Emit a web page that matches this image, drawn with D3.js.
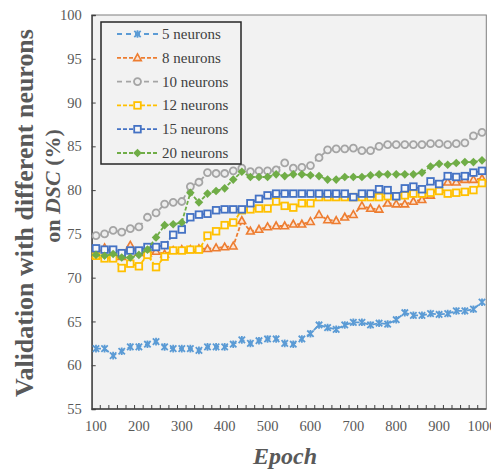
<!DOCTYPE html>
<html>
<head>
<meta charset="utf-8">
<script src="https://cdn.jsdelivr.net/npm/d3@7"></script>
<style>
  html, body { margin: 0; padding: 0; background: #ffffff; }
  svg { display: block; }
  text { font-family: "Liberation Serif", "Times New Roman", serif; }
</style>
</head>
<body>
<svg id="chart" width="491" height="470"></svg>
<script>
// Training epochs (x categories)
const epochs = [100,120,140,160,180,200,220,240,260,280,300,320,340,360,380,400,420,440,460,480,
  500,520,540,560,580,600,620,640,660,680,700,720,740,760,780,800,820,840,860,880,900,920,940,960,980,1000];

// Validation DSC (%) for each hidden-layer size
const neurons5  = [61.9,61.9,61.1,61.6,62.1,62.1,62.4,62.7,62.1,61.9,61.9,61.9,61.7,62.1,62.1,62.1,62.4,62.9,62.5,62.8,
  63.0,63.0,62.5,62.4,63.0,63.6,64.6,64.3,64.1,64.6,64.9,64.9,64.6,64.8,64.7,65.2,66.0,65.7,65.7,65.9,
  65.8,65.9,66.2,66.2,66.4,67.2];
const neurons8  = [72.6,73.4,72.6,72.4,73.7,72.9,72.8,73.0,72.7,73.1,73.2,73.2,73.3,73.3,73.4,73.5,73.6,76.5,75.3,75.5,
  75.8,75.9,75.9,76.1,76.1,76.4,77.2,76.6,76.5,76.9,77.2,78.2,77.9,77.8,78.5,78.4,78.4,78.7,78.9,79.4,
  80.3,80.9,80.9,81.2,81.2,81.3];
const neurons10 = [74.8,75.0,75.4,75.2,75.6,75.8,76.9,77.4,78.4,78.6,78.7,80.4,80.9,82.0,81.9,81.9,82.2,82.5,82.1,82.2,
  82.2,82.3,83.1,82.5,82.6,82.8,83.7,84.6,84.7,84.7,84.8,84.5,84.5,85.0,85.2,85.2,85.2,85.2,85.2,85.3,
  85.3,85.2,85.3,85.4,86.2,86.6];
const neurons12 = [72.5,72.2,72.2,71.1,71.6,71.3,72.6,71.2,72.4,73.1,73.1,73.2,73.2,74.8,75.3,76.0,76.3,77.7,77.8,77.9,
  77.9,78.7,78.2,78.0,78.5,78.5,79.2,79.2,79.2,79.2,79.2,79.2,79.2,79.2,79.3,79.3,79.4,79.6,79.6,79.7,
  79.9,79.6,79.7,79.8,80.0,80.8];
const neurons15 = [73.35,73.2,73.2,72.8,73.1,73.1,73.5,73.5,73.7,74.9,75.5,76.9,77.2,77.3,77.7,77.8,77.8,77.8,78.5,79.0,
  79.4,79.6,79.6,79.6,79.6,79.6,79.6,79.6,79.6,79.6,79.2,79.6,79.6,80.1,80.0,79.3,80.2,80.4,80.1,81.0,
  80.7,81.6,81.5,81.6,82.0,82.2];
const neurons20 = [72.6,72.5,72.7,72.3,72.3,72.6,73.2,74.6,76.0,76.1,76.3,79.7,78.6,79.6,79.9,80.2,81.2,82.1,81.5,81.5,
  81.5,81.8,81.6,81.8,81.8,81.7,81.6,81.2,81.2,81.5,81.5,81.5,81.7,81.8,81.8,81.8,81.8,81.8,82.0,82.7,
  83.0,82.9,83.1,83.2,83.2,83.4];

const seriesNames = ["5 neurons","8 neurons","10 neurons","12 neurons","15 neurons","20 neurons"];
const yTicks = [55,60,65,70,75,80,85,90,95,100];
const xTickLabels = [100,200,300,400,500,600,700,800,900,1000];

const series = [
  { name: seriesNames[0], values: neurons5,  color: "#5b9bd5", dash: "5,4", marker: "star" },
  { name: seriesNames[1], values: neurons8,  color: "#ed7d31", dash: "4,2", marker: "triangle" },
  { name: seriesNames[2], values: neurons10, color: "#a5a5a5", dash: "5,4", marker: "circle" },
  { name: seriesNames[3], values: neurons12, color: "#ffc000", dash: "4,2", marker: "square" },
  { name: seriesNames[4], values: neurons15, color: "#4472c4", dash: "4,2", marker: "square" },
  { name: seriesNames[5], values: neurons20, color: "#70ad47", dash: "4,2", marker: "diamond" }
];

const svg = d3.select("#chart");
const plot = { left: 91.7, right: 486.3, top: 15, bottom: 409 };

const x = d3.scalePoint().domain(epochs).range([plot.left, plot.right]).padding(0.5);
const y = d3.scaleLinear().domain([55, 100]).range([plot.bottom, plot.top]);

// plot area
svg.append("rect")
  .attr("x", plot.left).attr("y", plot.top)
  .attr("width", plot.right - plot.left).attr("height", plot.bottom - plot.top)
  .attr("fill", "#f2f2f2").attr("stroke", "#7f7f7f").attr("stroke-width", 1);

// y axis (ticks inside)
const yAxis = d3.axisLeft(y).tickValues(yTicks).tickSize(-4).tickPadding(10);
const gy = svg.append("g").attr("transform", `translate(${plot.left},0)`).call(yAxis);
gy.select(".domain").attr("stroke", "#404040").attr("stroke-width", 1.3);
gy.selectAll(".tick line").attr("stroke", "#404040");
gy.selectAll(".tick text").attr("fill", "#595959")
  .style("font-family", "'Liberation Serif', serif").style("font-size", "14.5px");

// x axis: labels at categories, tick marks between categories
const step = x.step();
const gx = svg.append("g").attr("transform", `translate(0,${plot.bottom})`);
gx.append("line").attr("x1", plot.left).attr("x2", plot.right)
  .attr("y1", 0).attr("y2", 0).attr("stroke", "#404040").attr("stroke-width", 1.3);
gx.selectAll("line.tk").data(epochs.slice(0, -1)).join("line").attr("class", "tk")
  .attr("x1", d => x(d) + step / 2).attr("x2", d => x(d) + step / 2)
  .attr("y1", 0).attr("y2", -4).attr("stroke", "#404040").attr("stroke-width", 1);
gx.selectAll("text").data(xTickLabels).join("text")
  .attr("x", d => x(d)).attr("y", 22)
  .attr("text-anchor", "middle").attr("fill", "#595959")
  .style("font-size", "14.5px").text(d => d);

// axis titles
function fitText(sel, target) {
  const len = sel.node().getComputedTextLength();
  const size = parseFloat(sel.style("font-size"));
  sel.style("font-size", (size * target / len) + "px");
}
const t1 = svg.append("text")
  .attr("transform", "translate(24,213) rotate(-90)")
  .attr("text-anchor", "middle").attr("dominant-baseline", "central")
  .attr("fill", "#595959").style("font-size", "21px").style("font-weight", "bold")
  .text("Validation with different neurons");
fitText(t1, 368);
const t2 = svg.append("text")
  .attr("transform", "translate(52,186) rotate(-90)")
  .attr("text-anchor", "middle").attr("dominant-baseline", "central")
  .attr("fill", "#595959").style("font-size", "22px").style("font-weight", "bold");
t2.append("tspan").text("on ");
t2.append("tspan").style("font-style", "italic").text("DSC");
t2.append("tspan").text(" (%)");

svg.append("text")
  .attr("x", 285).attr("y", 464).attr("text-anchor", "middle")
  .attr("fill", "#595959").style("font-size", "24px")
  .style("font-weight", "bold").style("font-style", "italic")
  .text("Epoch");

// marker drawing
function drawMarker(g, type, color) {
  if (type === "star") {
    g.append("path").attr("d", "M-3.2,-3.2L3.2,3.2M-3.2,3.2L3.2,-3.2M0,-3.8L0,3.8")
      .attr("stroke", color).attr("stroke-width", 1.8).attr("fill", "none");
  } else if (type === "triangle") {
    g.append("path").attr("d", "M0,-4L3.8,2.8L-3.8,2.8Z")
      .attr("stroke", color).attr("stroke-width", 1.6).attr("fill", "#fbe3d3");
  } else if (type === "circle") {
    g.append("circle").attr("r", 3.5)
      .attr("stroke", color).attr("stroke-width", 1.8).attr("fill", "#eeeeee");
  } else if (type === "square") {
    g.append("rect").attr("x", -3.3).attr("y", -3.3).attr("width", 6.6).attr("height", 6.6)
      .attr("stroke", color).attr("stroke-width", 1.8).attr("fill", "#f7f7f7");
  } else if (type === "diamond") {
    g.append("path").attr("d", "M0,-4.3L4.3,0L0,4.3L-4.3,0Z").attr("fill", color);
  }
}

const line = d3.line().x((d, i) => x(epochs[i])).y(d => y(d));

series.forEach(s => {
  const g = svg.append("g");
  g.append("path").datum(s.values).attr("d", line)
    .attr("fill", "none").attr("stroke", s.color)
    .attr("stroke-width", 1.8).attr("stroke-dasharray", s.dash);
  s.values.forEach((v, i) => {
    const m = g.append("g").attr("transform", `translate(${x(epochs[i])},${y(v)})`);
    drawMarker(m, s.marker, s.color);
  });
});

// legend
const lg = svg.append("g");
lg.append("rect").attr("x", 101).attr("y", 22).attr("width", 140).attr("height", 142)
  .attr("fill", "#f2f2f2").attr("stroke", "#262626").attr("stroke-width", 1.5);
series.forEach((s, i) => {
  const cy = 34 + i * 23.8;
  lg.append("line").attr("x1", 117).attr("x2", 158).attr("y1", cy).attr("y2", cy)
    .attr("stroke", s.color).attr("stroke-width", 1.8).attr("stroke-dasharray", s.dash);
  const m = lg.append("g").attr("transform", `translate(137.5,${cy})`);
  drawMarker(m, s.marker, s.color);
  lg.append("text").attr("x", 162).attr("y", cy).attr("dominant-baseline", "central")
    .attr("fill", "#404040").style("font-size", "15px").text(s.name);
});
</script>
</body>
</html>
